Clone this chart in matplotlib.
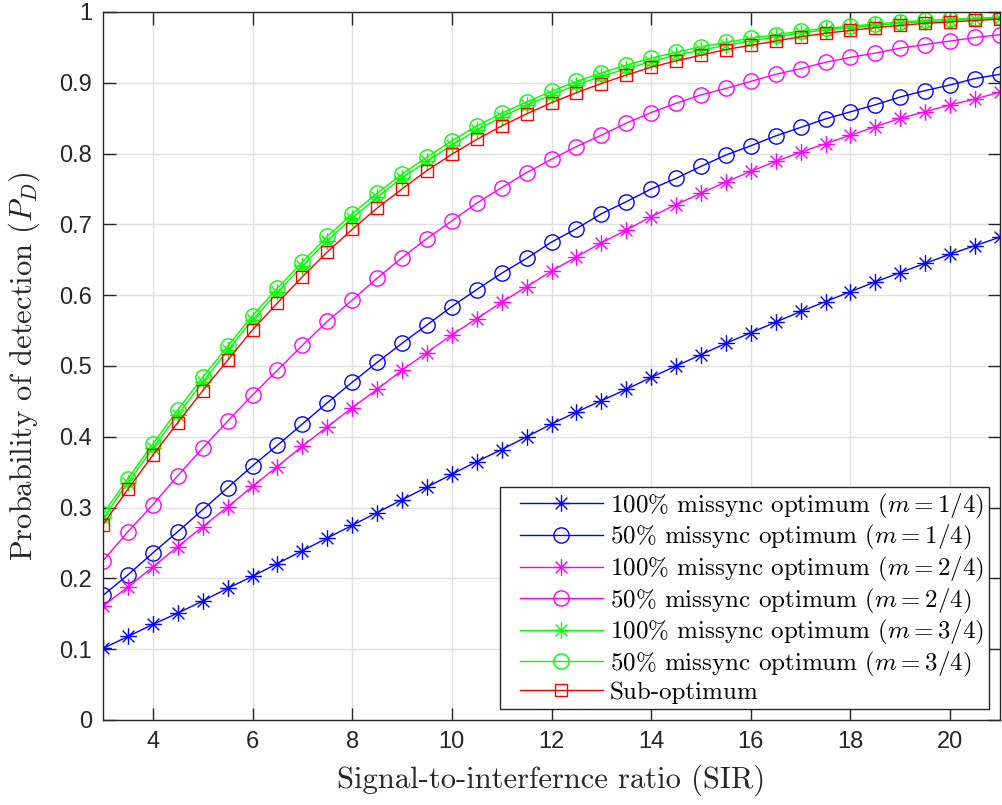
import numpy as np
import matplotlib
matplotlib.use("Agg")
import matplotlib.pyplot as plt
from matplotlib.path import Path
from matplotlib.lines import Line2D
from matplotlib.legend_handler import HandlerLine2D

plt.rcParams['mathtext.fontset'] = 'cm'

# SIR axis, 3 to 21 in steps of 0.5
sir = np.arange(3, 21.01, 0.5)

# Probability of detection for each scheme
pd_100_m1 = [0.101, 0.118, 0.135, 0.151, 0.168, 0.186, 0.203, 0.221, 0.239, 0.257,
             0.275, 0.293, 0.311, 0.329, 0.347, 0.365, 0.382, 0.400, 0.418, 0.435,
             0.451, 0.467, 0.484, 0.500, 0.516, 0.532, 0.547, 0.562, 0.577, 0.591,
             0.605, 0.619, 0.632, 0.645, 0.658, 0.670, 0.682]
pd_50_m1 = [0.176, 0.205, 0.236, 0.266, 0.297, 0.328, 0.359, 0.388, 0.418, 0.448,
            0.477, 0.505, 0.532, 0.558, 0.584, 0.608, 0.631, 0.652, 0.675, 0.694,
            0.715, 0.732, 0.750, 0.765, 0.782, 0.798, 0.811, 0.825, 0.837, 0.849,
            0.859, 0.869, 0.880, 0.889, 0.897, 0.906, 0.912]
pd_100_m2 = [0.161, 0.188, 0.216, 0.245, 0.273, 0.301, 0.330, 0.358, 0.387, 0.414,
             0.441, 0.467, 0.494, 0.519, 0.544, 0.567, 0.590, 0.612, 0.634, 0.654,
             0.674, 0.692, 0.711, 0.728, 0.744, 0.760, 0.775, 0.789, 0.802, 0.814,
             0.826, 0.838, 0.850, 0.859, 0.869, 0.877, 0.887]
pd_50_m2 = [0.225, 0.266, 0.304, 0.345, 0.384, 0.422, 0.459, 0.494, 0.529, 0.563,
            0.593, 0.624, 0.653, 0.680, 0.705, 0.730, 0.752, 0.773, 0.792, 0.810,
            0.826, 0.843, 0.858, 0.871, 0.883, 0.892, 0.902, 0.912, 0.920, 0.929,
            0.936, 0.942, 0.949, 0.954, 0.959, 0.964, 0.968]
pd_100_m3 = [0.285, 0.335, 0.384, 0.431, 0.477, 0.522, 0.565, 0.604, 0.641, 0.677,
             0.709, 0.738, 0.766, 0.789, 0.812, 0.833, 0.852, 0.868, 0.883, 0.897,
             0.909, 0.920, 0.930, 0.939, 0.946, 0.953, 0.959, 0.965, 0.970, 0.975,
             0.978, 0.981, 0.984, 0.986, 0.988, 0.990, 0.991]
pd_50_m3 = [0.291, 0.341, 0.390, 0.438, 0.484, 0.528, 0.571, 0.610, 0.647, 0.683,
            0.715, 0.744, 0.771, 0.795, 0.818, 0.839, 0.857, 0.873, 0.888, 0.902,
            0.914, 0.925, 0.935, 0.943, 0.951, 0.957, 0.963, 0.968, 0.973, 0.977,
            0.980, 0.983, 0.986, 0.988, 0.990, 0.991, 0.993]
pd_sub = [0.276, 0.326, 0.374, 0.420, 0.465, 0.508, 0.551, 0.589, 0.626, 0.661,
          0.693, 0.723, 0.750, 0.776, 0.799, 0.820, 0.839, 0.856, 0.872, 0.886,
          0.899, 0.911, 0.922, 0.931, 0.939, 0.947, 0.953, 0.959, 0.965, 0.970,
          0.974, 0.978, 0.981, 0.984, 0.986, 0.988, 0.990]

labels = [r"100% missync optimum ($m=1/4$)",
          r"50% missync optimum ($m=1/4$)",
          r"100% missync optimum ($m=2/4$)",
          r"50% missync optimum ($m=2/4$)",
          r"100% missync optimum ($m=3/4$)",
          r"50% missync optimum ($m=3/4$)",
          "Sub-optimum"]

# asterisk marker: plus and cross on top of each other
d = 0.7071
star = Path([(0, -1), (0, 1), (-1, 0), (1, 0), (-d, -d), (d, d), (-d, d), (d, -d)],
            [Path.MOVETO, Path.LINETO] * 4)

blue = (0, 0, 1)
magenta = (1, 0, 1)
green = (0, 1, 0)
red = (1, 0, 0)

fig = plt.figure(figsize=(10.02, 8.05), dpi=100)
ax = fig.add_axes([0.1028, 0.1056, 0.8952, 0.8795])

series = [(pd_100_m1, blue, star, 12),
          (pd_50_m1, blue, 'o', 11),
          (pd_100_m2, magenta, star, 12),
          (pd_50_m2, magenta, 'o', 11),
          (pd_100_m3, green, star, 12),
          (pd_50_m3, green, 'o', 11),
          (pd_sub, red, 's', 9)]

for (vals, col, mk, ms), lab in zip(series, labels):
    ax.plot(sir, vals, color=col, marker=mk, markersize=ms, markerfacecolor='none',
            markeredgecolor=col, markeredgewidth=1.0, linewidth=1.0, label=lab)

ax.set_xlim(3, 21)
ax.set_ylim(0, 1)
ax.set_xticks(np.arange(4, 21, 2))
ax.set_yticks(np.arange(0, 1.01, 0.1))
ax.set_yticklabels(["0", "0.1", "0.2", "0.3", "0.4", "0.5", "0.6", "0.7", "0.8", "0.9", "1"])
ax.grid(True, color='#e0e0e0', linewidth=1.0)
ax.set_axisbelow(True)
ax.tick_params(direction='in', length=9, width=1.0, top=True, right=True,
               labelsize=17, colors='#262626', pad=8)
for lbl in ax.get_xticklabels() + ax.get_yticklabels():
    lbl.set_fontfamily('Liberation Sans')
for sp in ax.spines.values():
    sp.set_color('#262626')
    sp.set_linewidth(1.0)

ax.set_xlabel("Signal-to-interfernce ratio (SIR)", fontfamily='cmr10', fontsize=22,
              color='#262626', labelpad=8)
ax.set_ylabel("Probability of detection ($P_D$)", fontfamily='cmr10', fontsize=22,
              color='#262626', labelpad=12)

# legend lines start a little in from the frame edge
leg = ax.legend(loc='lower right', prop={'family': 'cmr10', 'size': 18},
                handlelength=3.9, handletextpad=0.28, labelspacing=0.1,
                borderaxespad=0.45, fancybox=False, framealpha=1,
                edgecolor='#262626', borderpad=0.2,
                handler_map={Line2D: HandlerLine2D(xpad=0.6)})
leg.get_frame().set_linewidth(1.0)

fig.savefig("out.png", dpi=100)
